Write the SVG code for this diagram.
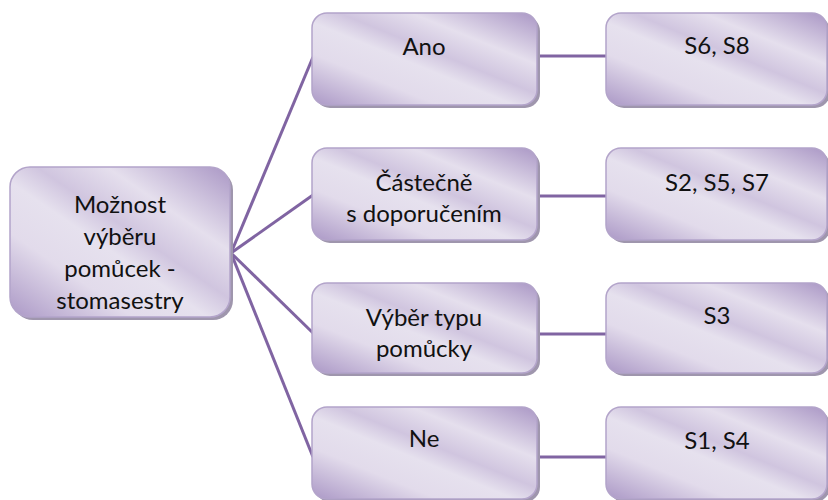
<svg xmlns="http://www.w3.org/2000/svg" width="828" height="500" viewBox="0 0 828 500">
  <defs>
    <linearGradient id="boxFill" x1="0" y1="1" x2="1" y2="0">
      <stop offset="0" stop-color="#ab98c6"/>
      <stop offset="0.28" stop-color="#e2dbeb"/>
      <stop offset="0.45" stop-color="#e6e1ee"/>
      <stop offset="0.56" stop-color="#d0c5df"/>
      <stop offset="0.72" stop-color="#e5dfed"/>
      <stop offset="1" stop-color="#aa97c5"/>
    </linearGradient>
  </defs>
  <style>
    .shadow { fill: #9f96ad; }
    .box { fill: url(#boxFill); stroke: #b3a4ca; stroke-width: 1.5; }
    .label { font-family: Lato, "Liberation Sans", sans-serif; font-size: 24px; fill: #111111; text-anchor: middle; }
    .conn { stroke: #8064a2; stroke-width: 3; fill: none; stroke-linecap: butt; }
  </style>
  <rect width="828" height="500" fill="#ffffff"/>

  <g id="connectors">
    <line class="conn" x1="231" y1="253" x2="313" y2="57"/>
    <line class="conn" x1="231" y1="253" x2="313" y2="195"/>
    <line class="conn" x1="231" y1="253" x2="313" y2="333"/>
    <line class="conn" x1="231" y1="253" x2="313" y2="457"/>
    <line class="conn" x1="537" y1="56" x2="606" y2="56"/>
    <line class="conn" x1="537" y1="196" x2="606" y2="196"/>
    <line class="conn" x1="537" y1="334" x2="606" y2="334"/>
    <line class="conn" x1="537" y1="457" x2="606" y2="457"/>
  </g>

  <g id="root">
    <rect class="shadow" x="13" y="170" width="220" height="150" rx="20"/>
    <rect class="box" x="10" y="167" width="220" height="150" rx="20"/>
    <text class="label" x="120" y="213">Možnost</text>
    <text class="label" x="120" y="245">výběru</text>
    <text class="label" x="120" y="277">pomůcek -</text>
    <text class="label" x="120" y="309">stomasestry</text>
  </g>

  <g id="ano">
    <rect class="shadow" x="315" y="16" width="225" height="92" rx="15"/>
    <rect class="box" x="312" y="13" width="225" height="92" rx="15"/>
    <text class="label" x="424" y="55">Ano</text>
  </g>
  <g id="castecne">
    <rect class="shadow" x="315" y="151" width="225" height="92" rx="15"/>
    <rect class="box" x="312" y="148" width="225" height="92" rx="15"/>
    <text class="label" x="424" y="191">Částečně</text>
    <text class="label" x="424" y="222">s doporučením</text>
  </g>
  <g id="vyber">
    <rect class="shadow" x="315" y="286" width="225" height="90" rx="15"/>
    <rect class="box" x="312" y="283" width="225" height="90" rx="15"/>
    <text class="label" x="424" y="326">Výběr typu</text>
    <text class="label" x="424" y="357">pomůcky</text>
  </g>
  <g id="ne">
    <rect class="shadow" x="315" y="410" width="225" height="92" rx="15"/>
    <rect class="box" x="312" y="407" width="225" height="92" rx="15"/>
    <text class="label" x="424" y="447">Ne</text>
  </g>

  <g id="s6s8">
    <rect class="shadow" x="609" y="16" width="221" height="92" rx="15"/>
    <rect class="box" x="606" y="13" width="221" height="92" rx="15"/>
    <text class="label" x="717" y="54">S6, S8</text>
  </g>
  <g id="s2s5s7">
    <rect class="shadow" x="609" y="151" width="221" height="92" rx="15"/>
    <rect class="box" x="606" y="148" width="221" height="92" rx="15"/>
    <text class="label" x="717" y="191">S2, S5, S7</text>
  </g>
  <g id="s3">
    <rect class="shadow" x="609" y="286" width="221" height="90" rx="15"/>
    <rect class="box" x="606" y="283" width="221" height="90" rx="15"/>
    <text class="label" x="717" y="324">S3</text>
  </g>
  <g id="s1s4">
    <rect class="shadow" x="609" y="410" width="221" height="92" rx="15"/>
    <rect class="box" x="606" y="407" width="221" height="92" rx="15"/>
    <text class="label" x="717" y="449">S1, S4</text>
  </g>
</svg>
